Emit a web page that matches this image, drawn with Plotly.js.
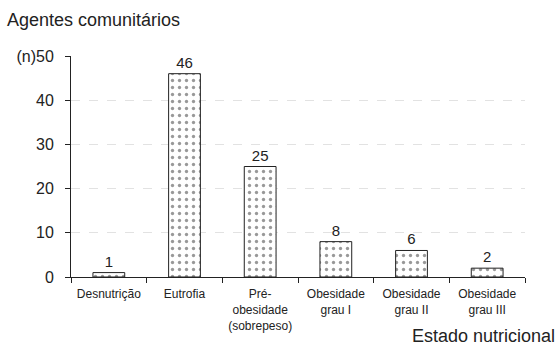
<!DOCTYPE html>
<html><head><meta charset="utf-8">
<script src="https://cdn.plot.ly/plotly-3.0.1.min.js"></script>
<style>html,body{margin:0;padding:0;background:#fff;}</style>
</head><body>
<div id="chart" style="width:558px;height:345px;"></div>
<script>
var categories = ["Desnutrição", "Eutrofia", "Pré-<br>obesidade<br>(sobrepeso)", "Obesidade<br>grau I", "Obesidade<br>grau II", "Obesidade<br>grau III"];
var values = [1, 46, 25, 8, 6, 2];
var yTickVals = [0, 10, 20, 30, 40, 50];
var yTickText = ["0", "10", "20", "30", "40", "(n)50"];

var font = "Liberation Sans, Arial, sans-serif";
var trace = {
  type: "bar",
  x: categories,
  y: values,
  text: values.map(String),
  textposition: "outside",
  cliponaxis: false,
  textfont: {family: font, size: 15, color: "#222"},
  width: 0.42,
  marker: {
    color: "#ffffff",
    line: {color: "#222", width: 1},
    pattern: {shape: ".", size: 7, solidity: 0.18, fgcolor: "#999", bgcolor: "#ffffff"}
  },
  hoverinfo: "none"
};
var layout = {
  width: 558, height: 345,
  margin: {l: 71, r: 33, t: 56, b: 68},
  paper_bgcolor: "#fff", plot_bgcolor: "#fff",
  showlegend: false,
  font: {family: font, color: "#222"},
  annotations: [
    {text: "Agentes comunitários", xref: "paper", yref: "paper", x: -0.145, y: 1.163, xanchor: "left", yanchor: "middle", showarrow: false, font: {size: 18, family: font, color: "#222"}},
    {text: "Estado nutricional", xref: "paper", yref: "paper", x: 1.07, y: -0.265, xanchor: "right", yanchor: "middle", showarrow: false, font: {size: 18, family: font, color: "#222"}}
  ],
  xaxis: {
    type: "category",
    showline: true, linecolor: "#222", linewidth: 1,
    ticks: "outside", ticklen: 5, tickcolor: "#222", tickson: "boundaries",
    tickfont: {size: 12, family: font, color: "#222"},
    ticklabelstandoff: 6,
    showgrid: false, zeroline: false
  },
  yaxis: {
    range: [0, 50],
    tickvals: yTickVals, ticktext: yTickText,
    showline: true, linecolor: "#222", linewidth: 1,
    ticks: "outside", ticklen: 5, tickcolor: "#222",
    tickfont: {size: 16, family: font, color: "#222"},
    ticklabelstandoff: 8,
    showgrid: true, gridcolor: "#e2e2e2", griddash: "dash", gridwidth: 1,
    zeroline: false
  }
};
Plotly.newPlot("chart", [trace], layout, {displayModeBar: false, staticPlot: true});
</script>
</body></html>
